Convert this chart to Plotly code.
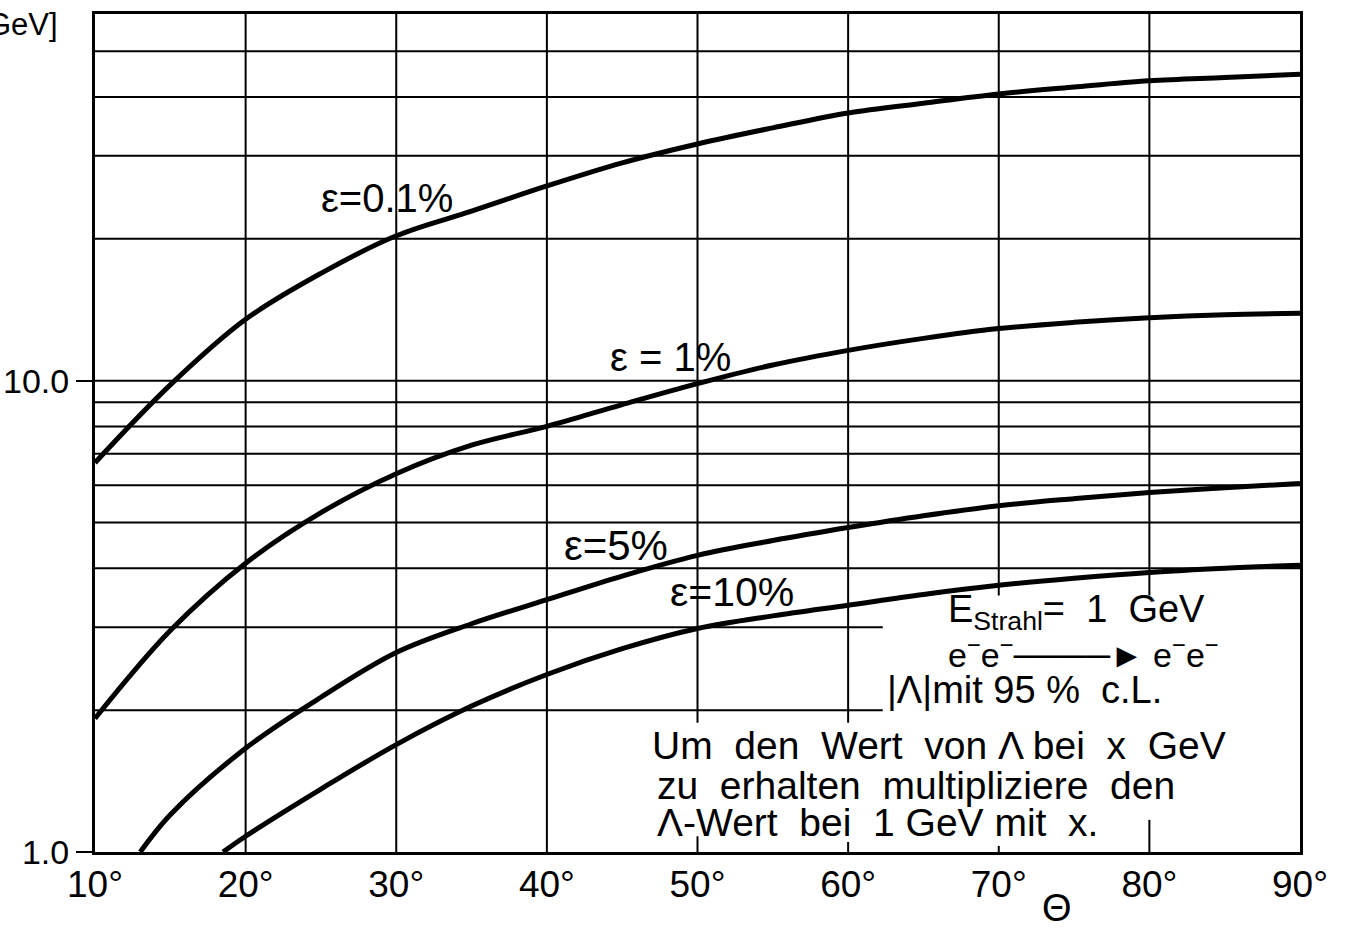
import plotly.graph_objects as go
import math

# ---------------- data ----------------
theta_01 = [10, 15, 20, 25, 30, 35, 40, 45, 50, 55, 60, 65, 70, 75, 80, 85, 90]
lam_01 = [6.7, 9.8, 13.5, 16.9, 20.3, 22.9, 25.9, 29.0, 31.8, 34.4, 37.0, 38.8, 40.6, 42.0, 43.3, 44.0, 44.7]

theta_1 = [10, 15, 20, 25, 30, 35, 40, 45, 50, 55, 60, 65, 70, 75, 80, 85, 90]
lam_1 = [1.92, 2.95, 4.1, 5.25, 6.35, 7.3, 8.0, 8.9, 9.86, 10.8, 11.6, 12.3, 12.9, 13.3, 13.6, 13.8, 13.9]

theta_5 = [13.0, 15, 20, 25, 30, 35, 40, 45, 50, 55, 60, 65, 70, 75, 80, 85, 90]
lam_5 = [1.0, 1.2, 1.66, 2.13, 2.65, 3.05, 3.43, 3.85, 4.26, 4.58, 4.88, 5.17, 5.43, 5.62, 5.79, 5.93, 6.05]

theta_10 = [18.5, 20, 25, 30, 35, 40, 45, 50, 55, 60, 65, 70, 75, 80, 85, 90]
lam_10 = [1.0, 1.08, 1.36, 1.69, 2.04, 2.38, 2.70, 2.98, 3.17, 3.34, 3.52, 3.68, 3.81, 3.92, 4.0, 4.06]

x_ticks = [10, 20, 30, 40, 50, 60, 70, 80, 90]
x_tick_labels = ["10°", "20°", "30°", "40°", "50°", "60°", "70°", "80°", "90°"]
y_ticks = [1, 10]
y_tick_labels = ["1.0", "10.0"]
y_grid = [2, 3, 4, 5, 6, 7, 8, 9, 10, 20, 30, 40, 50]

FONT = "Liberation Sans, Arial, sans-serif"

# plot area in pixels (page margin removed by post_script below)
L, R, T, B = 95, 1300, 14, 852
W, H = 1348, 930


def px(xp):
    return (xp - L) / (R - L)


def py(yp):
    return (B - yp) / (B - T)


fig = go.Figure()

# ---------------- grid (shapes) ----------------
shapes = []
grid_line = dict(color="black", width=2)
for v in y_grid:
    x1 = 62.3 if v in (2, 3) else 90
    shapes.append(dict(type="line", xref="x", yref="y", x0=10, x1=x1, y0=v, y1=v,
                       line=grid_line, layer="below"))
for d in [20, 30, 40]:
    shapes.append(dict(type="line", xref="x", yref="y", x0=d, x1=d, y0=1, y1=60,
                       line=grid_line, layer="below"))
for d, ylow in [(50, 1.88), (60, 1.88), (70, 3.5), (80, 3.5)]:
    shapes.append(dict(type="line", xref="x", yref="y", x0=d, x1=d, y0=ylow, y1=60,
                       line=grid_line, layer="below"))
for d, yhi in [(50, 1.08), (60, 1.05), (70, 1.03), (80, 1.17)]:
    shapes.append(dict(type="line", xref="x", yref="y", x0=d, x1=d, y0=1, y1=yhi,
                       line=grid_line, layer="below"))

# ---------------- curves ----------------
for th, lam in [(theta_01, lam_01), (theta_1, lam_1), (theta_5, lam_5), (theta_10, lam_10)]:
    fig.add_trace(go.Scatter(x=th, y=lam, mode="lines",
                             line=dict(color="black", width=5, shape="spline", smoothing=1.0),
                             showlegend=False, hoverinfo="skip"))

# ---------------- annotations ----------------
ann = []


def add_text(text, xp, yp, size=36, xanchor="center"):
    ann.append(dict(text=text, x=px(xp), y=py(yp), xref="paper", yref="paper",
                    showarrow=False, xanchor=xanchor, yanchor="middle",
                    font=dict(family=FONT, size=size, color="black")))


add_text("ε=0.1%", 387, 198, size=40)
add_text("ε = 1%", 670, 357, size=40)
add_text("ε=5%", 616, 545, size=42)
add_text("ε=10%", 732, 592, size=41)

add_text("E<sub>Strahl</sub>=  1  GeV", 946, 612, size=38, xanchor="left")
add_text("e<sup>−</sup>e<sup>−</sup>────► e<sup>−</sup>e<sup>−</sup>", 946, 652, size=34, xanchor="left")
add_text("|Λ|mit 95 %  c.L.", 885, 690, size=38, xanchor="left")
add_text("Um  den  Wert  von Λ bei  x  GeV", 650, 745, size=39, xanchor="left")
add_text("zu  erhalten  multipliziere  den", 655, 785, size=39, xanchor="left")
add_text("Λ-Wert  bei  1 GeV mit  x.", 655, 822, size=39, xanchor="left")

add_text("GeV]", 60, 25, size=31, xanchor="right")
add_text("Θ", 1057, 908, size=38)

fig.update_layout(
    width=W, height=H,
    margin=dict(l=L, r=W - R, t=T, b=H - B),
    paper_bgcolor="white", plot_bgcolor="white",
    shapes=shapes, annotations=ann,
    font=dict(family=FONT, color="black"),
    xaxis=dict(range=[10, 90], showgrid=False, zeroline=False, automargin=False,
               showline=True, mirror=True, linecolor="black", linewidth=3,
               tickmode="array", tickvals=x_ticks, ticktext=x_tick_labels,
               ticks="", tickfont=dict(family=FONT, size=37, color="black"),
               ticklabelstandoff=-2),
    yaxis=dict(type="log", range=[0, math.log10(60)], showgrid=False, zeroline=False,
               automargin=False,
               showline=True, mirror=True, linecolor="black", linewidth=3,
               tickmode="array", tickvals=y_ticks, ticktext=y_tick_labels,
               ticks="outside", ticklen=16, tickwidth=2, tickcolor="black",
               tickfont=dict(family=FONT, size=34, color="black")),
)

fig.write_html("out.html", config={"displayModeBar": False},
               post_script="document.body.style.margin='0px';")
